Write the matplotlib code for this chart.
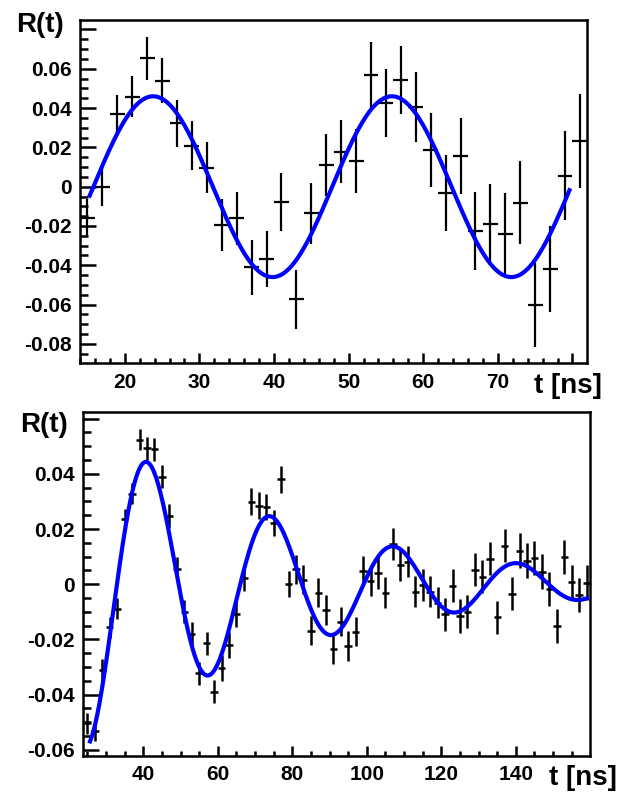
import numpy as np
import matplotlib
matplotlib.use("Agg")
import matplotlib.pyplot as plt
from matplotlib.ticker import MultipleLocator

plt.rcParams['font.family'] = ['Liberation Sans', 'DejaVu Sans']
plt.rcParams['font.weight'] = 'bold'

# ---- top panel data (2 ns bins) ----
t_top = [15, 17, 19, 21, 23, 25, 27, 29, 31, 33, 35, 37, 39, 41, 43, 45, 47,
         49, 51, 53, 55, 57, 59, 61, 63, 65, 67, 69, 71, 73, 75, 77, 79, 81]
r_top = [-0.016, 0.000, 0.037, 0.0458, 0.0653, 0.054, 0.0322, 0.0209, 0.0097,
         -0.0195, -0.016, -0.041, -0.0368, -0.0076, -0.0573, -0.0135, 0.011,
         0.0178, 0.0131, 0.0568, 0.0427, 0.0543, 0.0407, 0.0187, -0.003,
         0.0156, -0.0225, -0.019, -0.024, -0.0081, -0.0602, -0.042, 0.0056, 0.0232]
e_top = [0.0095, 0.010, 0.0098, 0.0106, 0.011, 0.0115, 0.012, 0.0125, 0.013,
         0.013, 0.0135, 0.014, 0.0144, 0.0147, 0.015, 0.0155, 0.0156, 0.016,
         0.0162, 0.017, 0.0173, 0.0175, 0.0178, 0.0187, 0.0193, 0.0195, 0.020,
         0.0206, 0.0206, 0.021, 0.0215, 0.022, 0.0226, 0.0237]

# fit parameters: A sin(2pi (t - t0)/T)
fit_top_amp = 0.046
fit_top_period = 32.0
fit_top_t0 = 15.8
fit_top_range = (15.3, 79.6)

# ---- bottom panel data ----
t_bot = list(range(25, 160, 2))
r_bot = [-0.0504, -0.053, -0.031, -0.0156, -0.0089, 0.0235, 0.0327, 0.0523,
         0.0493, 0.0489, 0.039, 0.0247, 0.0055, -0.0099, -0.018, -0.0322,
         -0.0214, -0.0389, -0.0303, -0.022, -0.0108, 0.0022, 0.0299, 0.0285,
         0.0279, 0.0221, 0.038, 0.0001, 0.0054, 0.0016, -0.0168, -0.003,
         -0.0093, -0.0236, -0.0135, -0.0224, -0.0172, 0.0049, 0.0013, 0.004,
         -0.003, 0.0146, 0.007, 0.0082, -0.0027, -0.0003, -0.0027, -0.0067,
         -0.0108, -0.0006, -0.0115, -0.0099, 0.0052, 0.0028, 0.0092, -0.012,
         0.0139, -0.0035, 0.0122, 0.0086, 0.0094, 0.0046, -0.0018, -0.0151,
         0.01, 0.0009, -0.0039, 0.0006]
e_bot = [0.0038] * 8 + [0.0042] * 10 + [0.0048] * 10 + [0.0053] * 10 + \
        [0.0057] * 10 + [0.0060] * 10 + [0.0062] * 10

# damped cosine
fit_bot_amp = 0.0915
fit_bot_tau = 56.5
fit_bot_period = 33.1
fit_bot_tpeak = 41.2
fit_bot_range = (25.7, 159.0)

W, H = 629, 792
fig = plt.figure(figsize=(W / 100, H / 100), dpi=100)


def px_axes(l, t, r, b):
    return fig.add_axes([l / W, 1 - b / H, (r - l) / W, (b - t) / H])


def style(ax):
    for s in ax.spines.values():
        s.set_linewidth(1.8)
    ax.tick_params(which='both', direction='in', top=False, right=False,
                   width=1.8, labelsize=15, pad=6)
    ax.tick_params(axis='y', which='major', length=11.5)
    ax.tick_params(axis='y', which='minor', length=5.5)
    ax.tick_params(axis='x', which='major', length=7.5)
    ax.tick_params(axis='x', which='minor', length=3.5)
    ax.tick_params(axis='x', pad=7)
    for lab in ax.get_xticklabels() + ax.get_yticklabels():
        lab.set_fontweight('bold')


def lab(v):
    if abs(v) < 1e-9:
        return '0'
    return '%.2f' % v


# ---------- top ----------
ax1 = px_axes(80, 20, 587, 363)
ax1.errorbar(t_top, r_top, yerr=e_top, xerr=1, fmt='none', ecolor='black',
             elinewidth=1.6, capsize=0)
tt = np.linspace(fit_top_range[0], fit_top_range[1], 400)
ax1.plot(tt, fit_top_amp * np.sin(2 * np.pi * (tt - fit_top_t0) / fit_top_period),
         color='#0000ff', lw=3.0)
ax1.set_xlim(14, 81.95)
ax1.set_ylim(-0.0897, 0.0848)
xt = [20, 30, 40, 50, 60, 70, 80]
ax1.set_xticks(xt, [str(v) for v in xt[:-1]] + [''])
yt = [-0.08, -0.06, -0.04, -0.02, 0, 0.02, 0.04, 0.06, 0.08]
ax1.set_yticks(yt, [lab(v) for v in yt[:-1]] + [''])
ax1.xaxis.set_minor_locator(MultipleLocator(2))
ax1.yaxis.set_minor_locator(MultipleLocator(0.005))
style(ax1)

# ---------- bottom ----------
ax2 = px_axes(83.3, 411.7, 590, 755.7)
ax2.errorbar(t_bot, r_bot, yerr=e_bot, xerr=1, fmt='none', ecolor='black',
             elinewidth=1.8, capsize=0)
tb = np.linspace(fit_bot_range[0], fit_bot_range[1], 800)
ax2.plot(tb, fit_bot_amp * np.exp(-tb / fit_bot_tau) *
         np.cos(2 * np.pi * (tb - fit_bot_tpeak) / fit_bot_period),
         color='#0000ff', lw=3.0)
ax2.set_xlim(23.9, 159.9)
ax2.set_ylim(-0.0621, 0.0625)
xt2 = [40, 60, 80, 100, 120, 140]
ax2.set_xticks(xt2, [str(v) for v in xt2])
yt2 = [-0.06, -0.04, -0.02, 0, 0.02, 0.04, 0.06]
ax2.set_yticks(yt2, [lab(v) for v in yt2[:-1]] + [''])
ax2.xaxis.set_minor_locator(MultipleLocator(5))
ax2.yaxis.set_minor_locator(MultipleLocator(0.005))
style(ax2)

# axis titles (ROOT style)
fig.text(16 / W, 1 - 32 / H, 'R(t)', fontsize=20, fontweight='bold',
         ha='left', va='baseline')
fig.text(602 / W, 1 - 393 / H, 't [ns]', fontsize=20, fontweight='bold',
         ha='right', va='baseline')
fig.text(20 / W, 1 - 431.7 / H, 'R(t)', fontsize=20, fontweight='bold',
         ha='left', va='baseline')
fig.text(617 / W, 1 - 785 / H, 't [ns]', fontsize=20, fontweight='bold',
         ha='right', va='baseline')

fig.savefig('out.png', dpi=100)
